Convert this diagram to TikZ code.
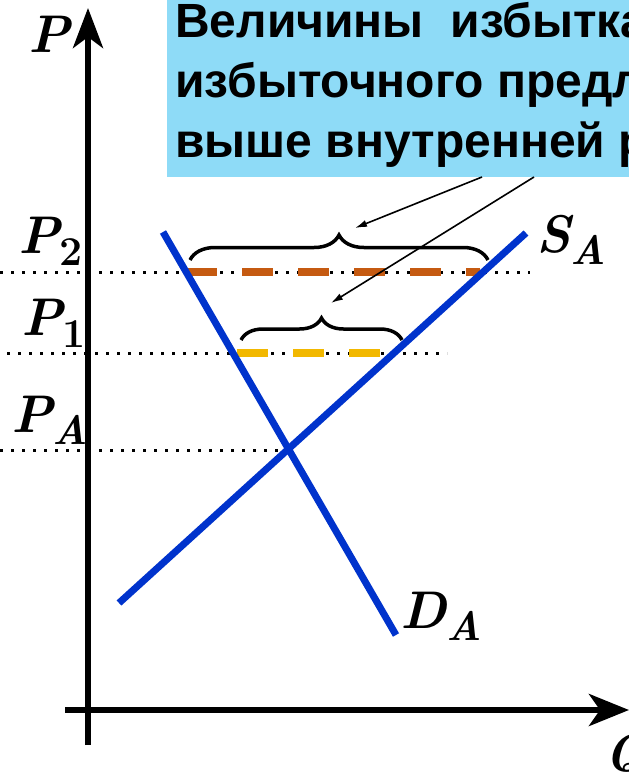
\documentclass[tikz,border=0pt]{standalone}
\usepackage{fontspec}
\newfontfamily\ruf{Liberation Sans}
\usetikzlibrary{arrows.meta,decorations.pathreplacing}
\definecolor{boxblue}{RGB}{142,219,247}
\definecolor{lineblue}{RGB}{0,51,204}
\definecolor{dorange}{RGB}{197,90,17}
\definecolor{dyellow}{RGB}{242,184,0}
\newcommand\biglbl[2]{{\fontsize{53}{53}\selectfont\bfseries\itshape #1}\raisebox{-12pt}{\fontsize{41}{41}\selectfont\bfseries #2}}
\tikzset{
  axisline/.style={line width=6pt,-{Stealth[length=40pt,width=30pt,inset=11pt]}},
  curve/.style={line width=7pt,lineblue},
  dotline/.style={line width=3pt,dash pattern=on 3pt off 8pt},
  gapline/.style={line width=8pt,dash pattern=on 31pt off 25pt},
  bracestyle/.style={line width=3.5pt,decorate,decoration={brace,amplitude=25pt}},
  pointer/.style={line width=1.6pt,-{Latex[length=12pt,width=7pt]}},
  txt/.style={anchor=base west,inner sep=0pt,font=\ruf\bfseries\fontsize{48}{60}\selectfont},
  lbl/.style={anchor=base west,inner sep=0pt}
}
\begin{document}
\begin{tikzpicture}[x=1pt,y=-1pt]
\useasboundingbox (0,0) rectangle (629,782);
% text box
\fill[boxblue] (167,0) rectangle (640,177);
\node[txt] (t1) at (175,37) {Величины~~избытка};
\node[txt] (t2) at (175,97) {избыточного предл};
\node[txt] (t3) at (175,157) {выше внутренней р};
% dotted price lines
\coordinate (p2a) at (0,272); \coordinate (p2b) at (530,272);
\coordinate (p1a) at (7,353); \coordinate (p1b) at (447,353);
\coordinate (paa) at (0,450); \coordinate (pab) at (289,450);
\draw[dotline] (p2a) -- (p2b);
\draw[dotline] (p1a) -- (p1b);
\draw[dotline] (paa) -- (pab);
% excess segments
\coordinate (e2a) at (186,272); \coordinate (e2b) at (480,272);
\coordinate (e1a) at (237,353); \coordinate (e1b) at (390,353);
\draw[gapline,dorange] (e2a) -- (e2b);
\draw[gapline,dyellow] (e1a) -- (e1b);
% axes
\coordinate (vb) at (88,745); \coordinate (vt) at (88,8);
\coordinate (hl) at (65,710); \coordinate (hr) at (629,710);
\draw[axisline] (vb) -- (vt);
\draw[line width=6pt,-{Stealth[length=40pt,width=32pt,inset=11pt]}] (hl) -- (hr);
% demand and supply
\coordinate (d1) at (163,232); \coordinate (d2) at (396,635);
\coordinate (s1) at (119,603); \coordinate (s2) at (526,233);
\draw[curve] (d1) -- (d2);
\draw[curve] (s1) -- (s2);
% braces
\coordinate (b2a) at (190,260); \coordinate (b2b) at (488,260);
\coordinate (b1a) at (241,340); \coordinate (b1b) at (402,340);
\draw[bracestyle] (b2a) -- (b2b);
\draw[bracestyle,decoration={brace,amplitude=22pt}] (b1a) -- (b1b);
% pointers
\coordinate (a1s) at (482,177); \coordinate (a1e) at (355,228);
\coordinate (a2s) at (534,177); \coordinate (a2e) at (331,303);
\draw[pointer] (a1s) -- (a1e);
\draw[pointer] (a2s) -- (a2e);
% labels
\node[lbl] (lp) at (28,52) {\biglbl{P}{}};
\node[lbl] (lp2) at (18,253) {\biglbl{P}{2}};
\node[lbl] (lp1) at (21,335) {\biglbl{P}{1}};
\node[lbl] (lpa) at (11,432) {\biglbl{P}{\itshape A}};
\node[lbl] (lsa) at (536,252) {\biglbl{S}{\itshape A}};
\node[lbl] (lda) at (400,628) {\biglbl{D}{\itshape A}};
\node[lbl] (lq) at (604,771) {\biglbl{Q}{}};
\end{tikzpicture}
\end{document}
